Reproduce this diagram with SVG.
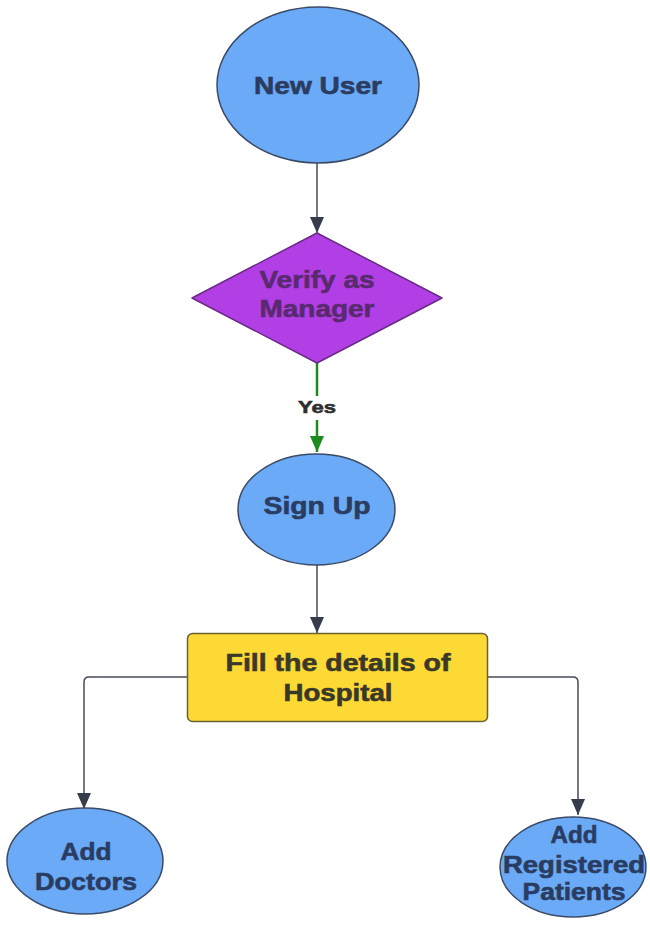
<svg xmlns="http://www.w3.org/2000/svg" width="650" height="925" viewBox="0 0 650 925">
<defs>
<marker id="arr" markerUnits="userSpaceOnUse" markerWidth="16" markerHeight="14" refX="16" refY="7" orient="auto"><path d="M0,0 L16,7 L0,14 z" fill="#353c4c"/></marker>
<marker id="arrG" markerUnits="userSpaceOnUse" markerWidth="16" markerHeight="14" refX="16" refY="7" orient="auto"><path d="M0,0 L16,7 L0,14 z" fill="#1d8a1d"/></marker>
</defs>
<style>
.bl{fill:#6aaaf6;stroke:#3b4a66;stroke-width:1.5}
.t{font-family:"Liberation Sans",Arial,sans-serif;font-weight:bold;text-anchor:middle;stroke-width:0.6}
.tb{fill:#2a3c62;stroke:#2a3c62;font-size:24px}
.tp{fill:#5a2a70;stroke:#5a2a70;font-size:24px}
.ty{fill:#3a3828;stroke:#3a3828;font-size:24px}
.c{fill:none;stroke:#454c5a;stroke-width:1.5}
</style>
<rect width="650" height="925" fill="#ffffff"/>
<g id="connectors">
<path class="c" d="M317,163 V233" marker-end="url(#arr)"/>
<path d="M317,363 V396" fill="none" stroke="#1d8a1d" stroke-width="2.5"/>
<path d="M317,420 V452" fill="none" stroke="#1d8a1d" stroke-width="2.5" marker-end="url(#arrG)"/>
<text class="t" x="317" y="413" font-size="17" fill="#2e2e2e" stroke="#2e2e2e" stroke-width="0.3" textLength="38" lengthAdjust="spacingAndGlyphs">Yes</text>
<path class="c" d="M317,565 V633" marker-end="url(#arr)"/>
<path class="c" d="M187,677 H89 Q84,677 84,682 V809" marker-end="url(#arr)"/>
<path class="c" d="M487,677 H573 Q578,677 578,682 V815" marker-end="url(#arr)"/>
</g>
<g id="new-user">
<ellipse class="bl" cx="318" cy="85" rx="101" ry="78"/>
<text class="t tb" x="318" y="94" textLength="128" lengthAdjust="spacingAndGlyphs">New User</text>
</g>
<g id="verify">
<path d="M317,233 L442,298 L317,363 L192,298 z" fill="#b23fe6" stroke="#6a2a86" stroke-width="1.5" stroke-linejoin="round"/>
<text class="t tp" x="317" y="288" textLength="115" lengthAdjust="spacingAndGlyphs">Verify as</text>
<text class="t tp" x="317" y="317" textLength="115" lengthAdjust="spacingAndGlyphs">Manager</text>
</g>
<g id="sign-up">
<ellipse class="bl" cx="316.5" cy="509.5" rx="78.5" ry="55.5"/>
<text class="t tb" x="317" y="514" textLength="107" lengthAdjust="spacingAndGlyphs">Sign Up</text>
</g>
<g id="fill-details">
<rect x="187.5" y="633.5" width="300" height="88" rx="5" fill="#fcd935" stroke="#6b6030" stroke-width="1.5"/>
<text class="t ty" x="338" y="671" textLength="225" lengthAdjust="spacingAndGlyphs">Fill the details of</text>
<text class="t ty" x="338" y="701" textLength="109" lengthAdjust="spacingAndGlyphs">Hospital</text>
</g>
<g id="add-doctors">
<ellipse class="bl" cx="85" cy="861" rx="78" ry="53"/>
<text class="t tb" x="86" y="860" textLength="51" lengthAdjust="spacingAndGlyphs">Add</text>
<text class="t tb" x="86" y="890" textLength="102" lengthAdjust="spacingAndGlyphs">Doctors</text>
</g>
<g id="add-patients">
<ellipse class="bl" cx="573" cy="867" rx="73" ry="50"/>
<text class="t tb" x="574" y="843" textLength="47" lengthAdjust="spacingAndGlyphs">Add</text>
<text class="t tb" x="574" y="873" textLength="142" lengthAdjust="spacingAndGlyphs">Registered</text>
<text class="t tb" x="574" y="900" textLength="103" lengthAdjust="spacingAndGlyphs">Patients</text>
</g>
</svg>
